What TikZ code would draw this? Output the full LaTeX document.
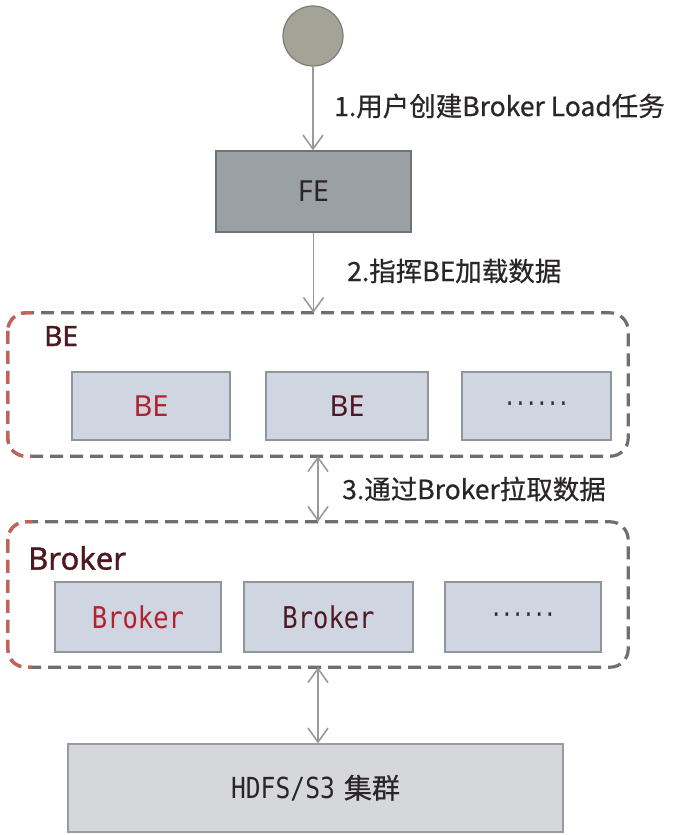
\documentclass[tikz,border=0pt]{standalone}
\usepackage{fontspec}
\setmainfont{Noto Sans}
\newfontfamily\sansb[FakeBold=1.2]{Noto Sans}
\newfontfamily\cjk{Noto Sans CJK SC}
\newfontfamily\cjkl[FakeBold=0.6]{Noto Sans CJK SC}
\newfontfamily\monof[FakeStretch=0.85]{DejaVu Sans Mono}
\newfontfamily\monob[FakeStretch=0.85,FakeBold=1.5]{DejaVu Sans Mono}
\usetikzlibrary{arrows.meta}
\definecolor{arrowgray}{HTML}{9A9A9A}
\definecolor{circfill}{HTML}{A4A398}
\definecolor{circline}{HTML}{7C7C72}
\definecolor{fefill}{HTML}{9BA0A5}
\definecolor{feline}{HTML}{6E7378}
\definecolor{dashgray}{HTML}{6F6F6F}
\definecolor{dashred}{HTML}{C4625A}
\definecolor{boxfill}{HTML}{CFD6E1}
\definecolor{boxline}{HTML}{8F959B}
\definecolor{hdfsfill}{HTML}{D6D7DB}
\definecolor{hdfsline}{HTML}{9A9BA0}
\definecolor{darkred}{HTML}{4E1820}
\definecolor{brightred}{HTML}{B3202F}
\definecolor{darktext}{HTML}{2A2628}
\tikzset{
  arr/.style={draw=arrowgray, line width=1.6pt, -{Straight Barb[length=14pt,width=20pt]}},
  darr/.style={draw=arrowgray, line width=1.6pt, {Straight Barb[length=14pt,width=20pt]}-{Straight Barb[length=14pt,width=20pt]}},
  steplabel/.style={anchor=west, font=\cjkl\fontsize{26.5}{30}\selectfont, text=darktext, inner sep=0pt},
  innerbox/.style={draw=boxline, fill=boxfill, line width=1.2pt, minimum height=68pt, inner sep=0pt},
  container/.style={minimum width=620pt, inner sep=0pt},
  cdash/.style={line width=3.2pt, dash pattern=on 13pt off 7pt, rounded corners=18pt},
  grouplabel/.style={anchor=west, text=darkred, inner sep=0pt},
  dots/.style={font=\monob\fontsize{21}{22}\selectfont, text=darktext},
}
\begin{document}
\begin{tikzpicture}[x=1pt,y=-1pt]
\useasboundingbox (0,0) rectangle (695,835);
\fill[white] (0,0) rectangle (695,835);

% start circle
\node[circle, draw=circline, fill=circfill, line width=1.2pt, minimum size=60pt, inner sep=0pt] (start) at (313,36) {};

% FE
\node[draw=feline, fill=fefill, line width=1.2pt, minimum width=195pt, minimum height=81pt, inner sep=0pt,
      font=\fontsize{29}{31}\selectfont, text=darktext] (fe) at (313.5,191.5) {FE};

% BE container
\node[container, minimum height=143pt] (bec) at (318,384.5) {};
\draw[cdash, dashgray] (bec.north west) rectangle (bec.south east);
\begin{scope}
  \clip (0,0) rectangle (32,835);
  \draw[cdash, dashred] (bec.north west) rectangle (bec.south east);
\end{scope}
\node[grouplabel, font=\sansb\fontsize{28}{30}\selectfont] (belabel) at (44,336) {BE};
\node[innerbox, minimum width=158pt, font=\fontsize{29}{31}\selectfont, text=brightred] (be1) at (151,406) {BE};
\node[innerbox, minimum width=162pt, font=\fontsize{29}{31}\selectfont, text=darkred] (be2) at (347,406) {BE};
\node[innerbox, minimum width=149pt, dots] (be3) at (536.5,406) {······};

% Broker container
\node[container, minimum height=145pt] (brc) at (318,594.5) {};
\draw[cdash, dashgray] (brc.north west) rectangle (brc.south east);
\begin{scope}
  \clip (0,0) rectangle (32,835);
  \draw[cdash, dashred] (brc.north west) rectangle (brc.south east);
\end{scope}
\node[grouplabel, font=\sansb\fontsize{31}{33}\selectfont] (brlabel) at (28,558) {Broker};
\node[innerbox, minimum width=166pt, minimum height=70pt, font=\monof\fontsize{30}{32}\selectfont, text=brightred] (br1) at (138,617) {Broker};
\node[innerbox, minimum width=169pt, minimum height=70pt, font=\monof\fontsize{30}{32}\selectfont, text=darkred] (br2) at (328.5,617) {Broker};
\node[innerbox, minimum width=156pt, minimum height=70pt, dots] (br3) at (523,617) {······};

% HDFS
\node[draw=hdfsline, fill=hdfsfill, line width=1.2pt, minimum width=495pt, minimum height=88pt, inner sep=0pt, text=darktext] (hdfs) at (315.5,788)
  {{\monof\fontsize{29}{31}\selectfont HDFS/S3}\hspace{9pt}{\cjkl\fontsize{28}{30}\selectfont 集群}};

% connectors
\draw[arr] (start.south) -- (start.south |- fe.north);
\draw[arr] (fe.south) -- (fe.south |- bec.north);
\draw[darr] (bec.south) -- (brc.north);
\draw[darr] (brc.south) -- (brc.south |- hdfs.north);

% step labels
\node[steplabel] (l1) at (334,106) {1.用户创建Broker Load任务};
\node[steplabel] (l2) at (347,271) {2.指挥BE加载数据};
\node[steplabel] (l3) at (342,489) {3.通过Broker拉取数据};
\end{tikzpicture}
\end{document}
